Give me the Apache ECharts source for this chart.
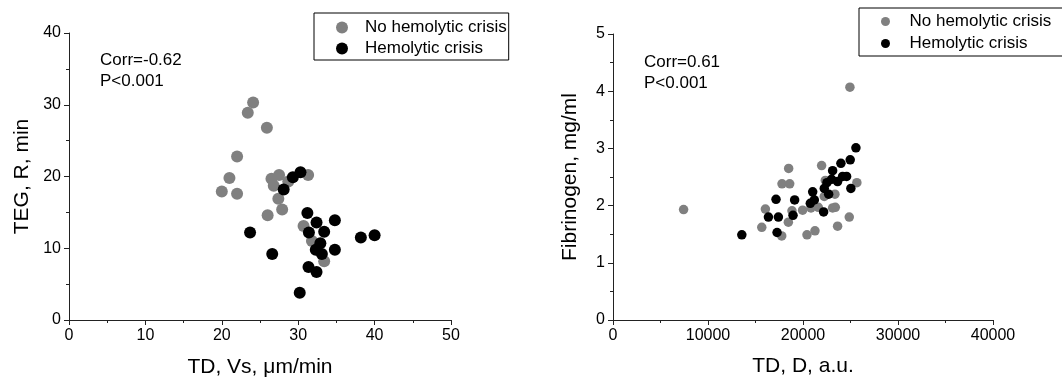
<!DOCTYPE html>
<html>
<head>
<meta charset="utf-8">
<script src="https://cdn.jsdelivr.net/npm/echarts@6/dist/echarts.min.js"></script>
<style>
  html, body { margin: 0; padding: 0; background: #fff; }
  #chart { width: 1062px; height: 383px; }
</style>
</head>
<body>
<div id="chart"></div>
<script>
// TD Vs (um/min) vs TEG R (min)
const vsNoCrisis = [
  [20.0, 17.9], [21.0, 19.8], [22.0, 17.6], [22.0, 22.8], [23.4, 28.9],
  [24.1, 30.3], [25.9, 26.8], [26.0, 14.6], [26.5, 19.7], [26.8, 18.7],
  [27.5, 20.2], [27.4, 16.9], [27.9, 15.4], [28.7, 19.3], [31.3, 20.2],
  [30.7, 13.1], [31.8, 11.0], [33.4, 8.2]
]
const vsCrisis = [
  [23.7, 12.2], [26.6, 9.2], [28.1, 18.2], [29.3, 19.9], [30.3, 20.6],
  [30.2, 3.8], [31.2, 14.9], [31.4, 12.2], [31.35, 7.4], [32.4, 6.7],
  [32.4, 13.6], [33.4, 12.3], [32.9, 10.7], [32.3, 9.8], [33.1, 9.2],
  [34.8, 13.9], [34.8, 9.8], [38.2, 11.5], [40.0, 11.8]
]
// TD D (a.u.) vs fibrinogen (mg/ml)
const dNoCrisis = [
  [7430, 1.93], [24940, 4.07], [18490, 2.65], [17790, 2.38], [18600, 2.38],
  [21960, 2.70], [25670, 2.40], [15660, 1.62], [16040, 1.94], [17760, 1.47],
  [18460, 1.71], [18840, 1.91], [19960, 1.92], [20840, 1.96], [20420, 1.49],
  [21260, 1.56], [21610, 1.97], [22240, 2.16], [23360, 2.20], [23120, 1.96],
  [23400, 1.97], [23640, 1.64], [24870, 1.80], [22350, 2.44]
]
const dCrisis = [
  [13560, 1.49], [16360, 1.80], [17160, 2.11], [17270, 1.53], [17410, 1.80],
  [18950, 1.83], [19120, 2.10], [20770, 2.04], [21020, 2.24], [21190, 2.10],
  [22170, 1.89], [22240, 2.30], [22700, 2.20], [22520, 2.40], [23120, 2.61],
  [23010, 2.46], [23640, 2.42], [23990, 2.74], [24170, 2.51], [24590, 2.51],
  [24970, 2.80], [25040, 2.30], [25570, 3.01]
]
const seriesNames = ['No hemolytic crisis', 'Hemolytic crisis']
const statsLeft = ['Corr=-0.62', 'P<0.001']
const statsRight = ['Corr=0.61', 'P<0.001']

const FONT = 'Liberation Sans, Arial, sans-serif'
const GRAY = '#808080'
const AXIS = '#222'

function axis(min, max, interval, name, gap, extra) {
  return Object.assign({
    type: 'value',
    min: min,
    max: max,
    interval: interval,
    name: name,
    nameLocation: 'middle',
    nameGap: gap,
    nameTextStyle: { fontFamily: FONT, fontSize: 21, color: '#000' },
    axisLine: { show: true, onZero: false, lineStyle: { color: AXIS, width: 1 } },
    axisTick: { show: true, length: 5, lineStyle: { color: AXIS } },
    minorTick: { show: true, splitNumber: 2, length: 3, lineStyle: { color: AXIS } },
    axisLabel: { fontFamily: FONT, fontSize: 16, color: '#000', margin: 8, formatter: v => String(v) },
    splitLine: { show: false }
  }, extra || {})
}

function legend(left, top, itemW, itemH, fontSize, pad, gap) {
  return {
    orient: 'vertical',
    left: left,
    top: top,
    data: seriesNames,
    icon: 'circle',
    itemWidth: itemW,
    itemHeight: itemH,
    itemGap: gap,
    padding: pad,
    borderColor: '#000',
    borderWidth: 1,
    backgroundColor: '#fff',
    selectedMode: false,
    textStyle: { fontFamily: FONT, fontSize: fontSize, color: '#000' }
  }
}

const chart = echarts.init(document.getElementById('chart'))
chart.setOption({
  animation: false,
  grid: [
    { left: 69, right: 611, top: 33, bottom: 63 },
    { left: 613, right: 69, top: 34, bottom: 63 }
  ],
  xAxis: [
    axis(0, 50, 10, 'TD, Vs, μm/min', 37, { gridIndex: 0 }),
    axis(0, 40000, 10000, 'TD, D, a.u.', 36, { gridIndex: 1 })
  ],
  yAxis: [
    axis(0, 40, 10, 'TEG, R, min', 36, { gridIndex: 0 }),
    axis(0, 5, 1, 'Fibrinogen, mg/ml', 32, { gridIndex: 1 })
  ],
  legend: [
    legend(314, 13, 36, 12, 17, [6, 2, 3, 22], 4),
    legend(859, 8, 38, 9, 17, [5, 12, 4, 22], 5)
  ],
  graphic: [
    { type: 'text', left: 100, top: 50, style: { text: statsLeft.join('\n'), font: '17px ' + FONT, fill: '#000', lineHeight: 21 } },
    { type: 'text', left: 644, top: 52, style: { text: statsRight.join('\n'), font: '17px ' + FONT, fill: '#000', lineHeight: 21 } }
  ],
  series: [
    { name: seriesNames[0], type: 'scatter', xAxisIndex: 0, yAxisIndex: 0, data: vsNoCrisis, symbolSize: 12, itemStyle: { color: GRAY, opacity: 1 } },
    { name: seriesNames[1], type: 'scatter', xAxisIndex: 0, yAxisIndex: 0, data: vsCrisis, symbolSize: 12, itemStyle: { color: '#000', opacity: 1 } },
    { name: seriesNames[0], type: 'scatter', xAxisIndex: 1, yAxisIndex: 1, data: dNoCrisis, symbolSize: 9.5, itemStyle: { color: GRAY, opacity: 1 } },
    { name: seriesNames[1], type: 'scatter', xAxisIndex: 1, yAxisIndex: 1, data: dCrisis, symbolSize: 9.5, itemStyle: { color: '#000', opacity: 1 } }
  ]
})
</script>
</body>
</html>
